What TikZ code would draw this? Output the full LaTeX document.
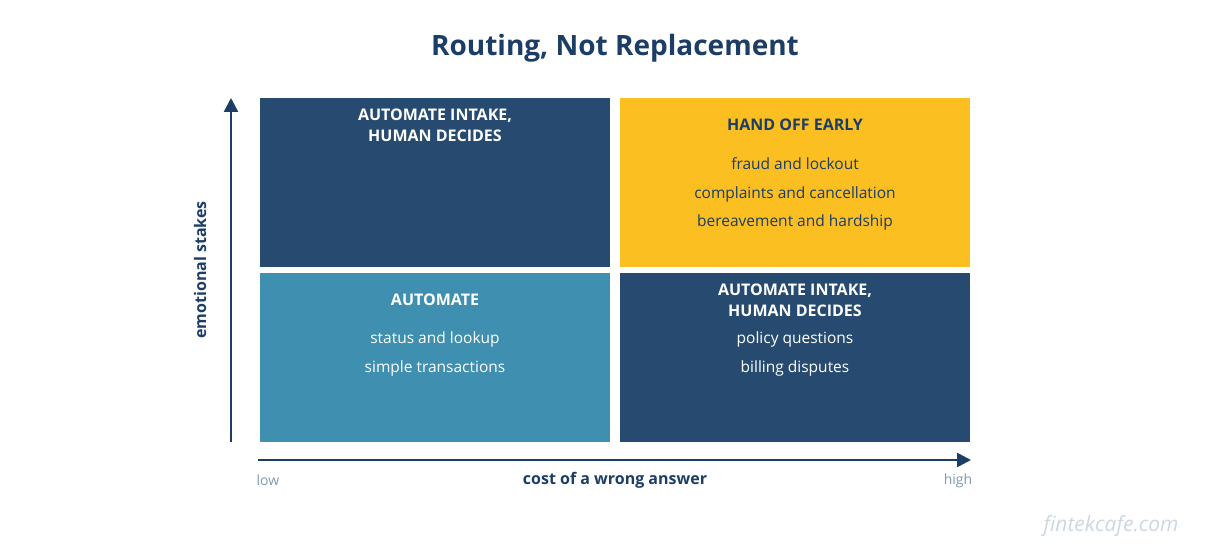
\documentclass[tikz,border=0pt]{standalone}
\usepackage{fontspec}
\setmainfont{Open Sans}
\usetikzlibrary{arrows.meta}
\definecolor{navy}{HTML}{1B3D66}
\definecolor{dk}{HTML}{274B70}
\definecolor{yel}{HTML}{FBBF22}
\definecolor{teal}{HTML}{3F8FB0}
\definecolor{gr}{HTML}{7F9AB5}
\begin{document}
\begin{tikzpicture}[x=1pt,y=-1pt,
 box/.style={anchor=north west,minimum width=350,minimum height=169,inner sep=0,draw=none},
 hd/.style={font=\fontsize{16}{21}\selectfont\bfseries,align=center},
 bd/.style={font=\fontsize{15.5}{28.5}\selectfont,align=center},
 ax/.style={line width=2.5,draw=navy,-{Triangle[length=14,width=14]}}]
\useasboundingbox (0,0) rectangle (1230,553);
\node[font=\fontsize{28}{32}\selectfont\bfseries,text=navy] (t) at (615,48) {Routing, Not Replacement};
\node[box,fill=dk] (tl) at (260,98) {};
\node[box,fill=yel] (tr) at (620,98) {};
\node[box,fill=teal] (bl) at (260,273) {};
\node[box,fill=dk] (br) at (620,273) {};
\node[hd,text=white] (tlh) at (435,125) {AUTOMATE INTAKE,\\HUMAN DECIDES};
\node[hd,text=navy] (trh) at (795,125) {HAND OFF EARLY};
\node[bd,text=navy] (trb) at (795,194) {fraud and lockout\\complaints and cancellation\\bereavement and hardship};
\node[hd,text=white] (blh) at (435,300) {AUTOMATE};
\node[bd,text=white] (blb) at (435,354) {status and lookup\\simple transactions};
\node[hd,text=white] (brh) at (795,300) {AUTOMATE INTAKE,\\HUMAN DECIDES};
\node[bd,text=white] (brb) at (795,354) {policy questions\\billing disputes};
\coordinate (y0) at (231,442); \coordinate (y1) at (231,98);
\coordinate (x0) at (258,460); \coordinate (x1) at (971,460);
\draw[ax] (y0) -- (y1);
\draw[ax] (x0) -- (x1);
\node[rotate=90,font=\fontsize{16}{20}\selectfont\bfseries,text=navy] (yl) at (200,270) {emotional stakes};
\node[font=\fontsize{16}{20}\selectfont\bfseries,text=navy] (xl) at (615,480) {cost of a wrong answer};
\node[font=\fontsize{14}{18}\selectfont,text=gr] (lo) at (268,480) {low};
\node[font=\fontsize{14}{18}\selectfont,text=gr] (hi) at (958,481) {high};
\node[font=\fontsize{21}{24}\selectfont\itshape,text=gr!40] (wm) at (1111,526) {fintekcafe.com};
\end{tikzpicture}
\end{document}
